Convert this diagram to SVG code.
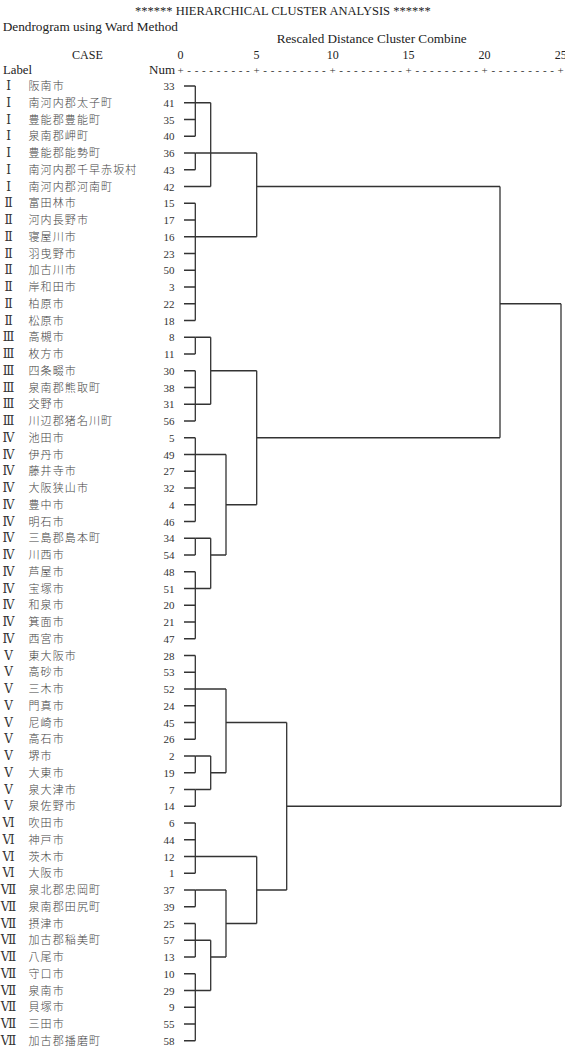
<svg xmlns="http://www.w3.org/2000/svg" width="565" height="1059" viewBox="0 0 565 1059">
<style>
.hd{font-family:"Liberation Serif","DejaVu Serif",serif;font-size:12px;fill:#222}
.ax{font-family:"Liberation Serif","DejaVu Serif",serif;font-size:11px;fill:#333}
.rn{font-family:"DejaVu Serif","Noto Sans CJK JP",serif;font-size:12px;fill:#333;text-anchor:middle}
.nm{font-family:"Noto Sans CJK JP",sans-serif;font-size:11px;font-weight:300;letter-spacing:1.1px;fill:#444}
.num{font-family:"Liberation Serif","DejaVu Serif",serif;font-size:11px;fill:#333;text-anchor:end}
.ln{fill:none;stroke:#333;stroke-width:1.3}
</style>
<rect width="565" height="1059" fill="#fff"/>
<g id="header">
<text class="hd" x="135" y="15" textLength="295.7" lengthAdjust="spacingAndGlyphs">****** HIERARCHICAL CLUSTER ANALYSIS ******</text>
<text class="hd" x="2.7" y="30.7" textLength="175.3" lengthAdjust="spacingAndGlyphs">Dendrogram using Ward Method</text>
<text class="hd" x="276.7" y="43.3" textLength="190" lengthAdjust="spacingAndGlyphs">Rescaled Distance Cluster Combine</text>
<text class="hd" x="72" y="59.3" textLength="31" lengthAdjust="spacingAndGlyphs">CASE</text>
<text class="hd" x="180.5" y="59.3" text-anchor="middle">0</text>
<text class="hd" x="256.5" y="59.3" text-anchor="middle">5</text>
<text class="hd" x="332.7" y="59.3" text-anchor="middle">10</text>
<text class="hd" x="408.5" y="59.3" text-anchor="middle">15</text>
<text class="hd" x="484.5" y="59.3" text-anchor="middle">20</text>
<text class="hd" x="560.7" y="59.3" text-anchor="middle">25</text>
<text class="hd" x="3" y="74" textLength="29" lengthAdjust="spacingAndGlyphs">Label</text>
<text class="hd" x="149" y="74" textLength="26" lengthAdjust="spacingAndGlyphs">Num</text>
<text class="ax" x="177.4" y="74" textLength="386.4" lengthAdjust="spacing">+---------+---------+---------+---------+---------+</text>
</g>
<g id="case-33"><text class="rn" x="8.5" y="90">Ⅰ</text><text class="nm" x="28.5" y="90">阪南市</text><text class="num" x="174.5" y="90">33</text></g>
<g id="case-41"><text class="rn" x="8.5" y="106.75">Ⅰ</text><text class="nm" x="28.5" y="106.75">南河内郡太子町</text><text class="num" x="174.5" y="106.75">41</text></g>
<g id="case-35"><text class="rn" x="8.5" y="123.5">Ⅰ</text><text class="nm" x="28.5" y="123.5">豊能郡豊能町</text><text class="num" x="174.5" y="123.5">35</text></g>
<g id="case-40"><text class="rn" x="8.5" y="140.25">Ⅰ</text><text class="nm" x="28.5" y="140.25">泉南郡岬町</text><text class="num" x="174.5" y="140.25">40</text></g>
<g id="case-36"><text class="rn" x="8.5" y="157">Ⅰ</text><text class="nm" x="28.5" y="157">豊能郡能勢町</text><text class="num" x="174.5" y="157">36</text></g>
<g id="case-43"><text class="rn" x="8.5" y="173.75">Ⅰ</text><text class="nm" x="28.5" y="173.75">南河内郡千早赤坂村</text><text class="num" x="174.5" y="173.75">43</text></g>
<g id="case-42"><text class="rn" x="8.5" y="190.5">Ⅰ</text><text class="nm" x="28.5" y="190.5">南河内郡河南町</text><text class="num" x="174.5" y="190.5">42</text></g>
<g id="case-15"><text class="rn" x="8.5" y="207.25">Ⅱ</text><text class="nm" x="28.5" y="207.25">富田林市</text><text class="num" x="174.5" y="207.25">15</text></g>
<g id="case-17"><text class="rn" x="8.5" y="224">Ⅱ</text><text class="nm" x="28.5" y="224">河内長野市</text><text class="num" x="174.5" y="224">17</text></g>
<g id="case-16"><text class="rn" x="8.5" y="240.75">Ⅱ</text><text class="nm" x="28.5" y="240.75">寝屋川市</text><text class="num" x="174.5" y="240.75">16</text></g>
<g id="case-23"><text class="rn" x="8.5" y="257.5">Ⅱ</text><text class="nm" x="28.5" y="257.5">羽曳野市</text><text class="num" x="174.5" y="257.5">23</text></g>
<g id="case-50"><text class="rn" x="8.5" y="274.25">Ⅱ</text><text class="nm" x="28.5" y="274.25">加古川市</text><text class="num" x="174.5" y="274.25">50</text></g>
<g id="case-3"><text class="rn" x="8.5" y="291">Ⅱ</text><text class="nm" x="28.5" y="291">岸和田市</text><text class="num" x="174.5" y="291">3</text></g>
<g id="case-22"><text class="rn" x="8.5" y="307.75">Ⅱ</text><text class="nm" x="28.5" y="307.75">柏原市</text><text class="num" x="174.5" y="307.75">22</text></g>
<g id="case-18"><text class="rn" x="8.5" y="324.5">Ⅱ</text><text class="nm" x="28.5" y="324.5">松原市</text><text class="num" x="174.5" y="324.5">18</text></g>
<g id="case-8"><text class="rn" x="8.5" y="341.25">Ⅲ</text><text class="nm" x="28.5" y="341.25">高槻市</text><text class="num" x="174.5" y="341.25">8</text></g>
<g id="case-11"><text class="rn" x="8.5" y="358">Ⅲ</text><text class="nm" x="28.5" y="358">枚方市</text><text class="num" x="174.5" y="358">11</text></g>
<g id="case-30"><text class="rn" x="8.5" y="374.75">Ⅲ</text><text class="nm" x="28.5" y="374.75">四条畷市</text><text class="num" x="174.5" y="374.75">30</text></g>
<g id="case-38"><text class="rn" x="8.5" y="391.5">Ⅲ</text><text class="nm" x="28.5" y="391.5">泉南郡熊取町</text><text class="num" x="174.5" y="391.5">38</text></g>
<g id="case-31"><text class="rn" x="8.5" y="408.25">Ⅲ</text><text class="nm" x="28.5" y="408.25">交野市</text><text class="num" x="174.5" y="408.25">31</text></g>
<g id="case-56"><text class="rn" x="8.5" y="425">Ⅲ</text><text class="nm" x="28.5" y="425">川辺郡猪名川町</text><text class="num" x="174.5" y="425">56</text></g>
<g id="case-5"><text class="rn" x="8.5" y="441.75">Ⅳ</text><text class="nm" x="28.5" y="441.75">池田市</text><text class="num" x="174.5" y="441.75">5</text></g>
<g id="case-49"><text class="rn" x="8.5" y="458.5">Ⅳ</text><text class="nm" x="28.5" y="458.5">伊丹市</text><text class="num" x="174.5" y="458.5">49</text></g>
<g id="case-27"><text class="rn" x="8.5" y="475.25">Ⅳ</text><text class="nm" x="28.5" y="475.25">藤井寺市</text><text class="num" x="174.5" y="475.25">27</text></g>
<g id="case-32"><text class="rn" x="8.5" y="492">Ⅳ</text><text class="nm" x="28.5" y="492">大阪狭山市</text><text class="num" x="174.5" y="492">32</text></g>
<g id="case-4"><text class="rn" x="8.5" y="508.75">Ⅳ</text><text class="nm" x="28.5" y="508.75">豊中市</text><text class="num" x="174.5" y="508.75">4</text></g>
<g id="case-46"><text class="rn" x="8.5" y="525.5">Ⅳ</text><text class="nm" x="28.5" y="525.5">明石市</text><text class="num" x="174.5" y="525.5">46</text></g>
<g id="case-34"><text class="rn" x="8.5" y="542.25">Ⅳ</text><text class="nm" x="28.5" y="542.25">三島郡島本町</text><text class="num" x="174.5" y="542.25">34</text></g>
<g id="case-54"><text class="rn" x="8.5" y="559">Ⅳ</text><text class="nm" x="28.5" y="559">川西市</text><text class="num" x="174.5" y="559">54</text></g>
<g id="case-48"><text class="rn" x="8.5" y="575.75">Ⅳ</text><text class="nm" x="28.5" y="575.75">芦屋市</text><text class="num" x="174.5" y="575.75">48</text></g>
<g id="case-51"><text class="rn" x="8.5" y="592.5">Ⅳ</text><text class="nm" x="28.5" y="592.5">宝塚市</text><text class="num" x="174.5" y="592.5">51</text></g>
<g id="case-20"><text class="rn" x="8.5" y="609.25">Ⅳ</text><text class="nm" x="28.5" y="609.25">和泉市</text><text class="num" x="174.5" y="609.25">20</text></g>
<g id="case-21"><text class="rn" x="8.5" y="626">Ⅳ</text><text class="nm" x="28.5" y="626">箕面市</text><text class="num" x="174.5" y="626">21</text></g>
<g id="case-47"><text class="rn" x="8.5" y="642.75">Ⅳ</text><text class="nm" x="28.5" y="642.75">西宮市</text><text class="num" x="174.5" y="642.75">47</text></g>
<g id="case-28"><text class="rn" x="8.5" y="659.5">Ⅴ</text><text class="nm" x="28.5" y="659.5">東大阪市</text><text class="num" x="174.5" y="659.5">28</text></g>
<g id="case-53"><text class="rn" x="8.5" y="676.25">Ⅴ</text><text class="nm" x="28.5" y="676.25">高砂市</text><text class="num" x="174.5" y="676.25">53</text></g>
<g id="case-52"><text class="rn" x="8.5" y="693">Ⅴ</text><text class="nm" x="28.5" y="693">三木市</text><text class="num" x="174.5" y="693">52</text></g>
<g id="case-24"><text class="rn" x="8.5" y="709.75">Ⅴ</text><text class="nm" x="28.5" y="709.75">門真市</text><text class="num" x="174.5" y="709.75">24</text></g>
<g id="case-45"><text class="rn" x="8.5" y="726.5">Ⅴ</text><text class="nm" x="28.5" y="726.5">尼崎市</text><text class="num" x="174.5" y="726.5">45</text></g>
<g id="case-26"><text class="rn" x="8.5" y="743.25">Ⅴ</text><text class="nm" x="28.5" y="743.25">高石市</text><text class="num" x="174.5" y="743.25">26</text></g>
<g id="case-2"><text class="rn" x="8.5" y="760">Ⅴ</text><text class="nm" x="28.5" y="760">堺市</text><text class="num" x="174.5" y="760">2</text></g>
<g id="case-19"><text class="rn" x="8.5" y="776.75">Ⅴ</text><text class="nm" x="28.5" y="776.75">大東市</text><text class="num" x="174.5" y="776.75">19</text></g>
<g id="case-7"><text class="rn" x="8.5" y="793.5">Ⅴ</text><text class="nm" x="28.5" y="793.5">泉大津市</text><text class="num" x="174.5" y="793.5">7</text></g>
<g id="case-14"><text class="rn" x="8.5" y="810.25">Ⅴ</text><text class="nm" x="28.5" y="810.25">泉佐野市</text><text class="num" x="174.5" y="810.25">14</text></g>
<g id="case-6"><text class="rn" x="8.5" y="827">Ⅵ</text><text class="nm" x="28.5" y="827">吹田市</text><text class="num" x="174.5" y="827">6</text></g>
<g id="case-44"><text class="rn" x="8.5" y="843.75">Ⅵ</text><text class="nm" x="28.5" y="843.75">神戸市</text><text class="num" x="174.5" y="843.75">44</text></g>
<g id="case-12"><text class="rn" x="8.5" y="860.5">Ⅵ</text><text class="nm" x="28.5" y="860.5">茨木市</text><text class="num" x="174.5" y="860.5">12</text></g>
<g id="case-1"><text class="rn" x="8.5" y="877.25">Ⅵ</text><text class="nm" x="28.5" y="877.25">大阪市</text><text class="num" x="174.5" y="877.25">1</text></g>
<g id="case-37"><text class="rn" x="8.5" y="894">Ⅶ</text><text class="nm" x="28.5" y="894">泉北郡忠岡町</text><text class="num" x="174.5" y="894">37</text></g>
<g id="case-39"><text class="rn" x="8.5" y="910.75">Ⅶ</text><text class="nm" x="28.5" y="910.75">泉南郡田尻町</text><text class="num" x="174.5" y="910.75">39</text></g>
<g id="case-25"><text class="rn" x="8.5" y="927.5">Ⅶ</text><text class="nm" x="28.5" y="927.5">摂津市</text><text class="num" x="174.5" y="927.5">25</text></g>
<g id="case-57"><text class="rn" x="8.5" y="944.25">Ⅶ</text><text class="nm" x="28.5" y="944.25">加古郡稲美町</text><text class="num" x="174.5" y="944.25">57</text></g>
<g id="case-13"><text class="rn" x="8.5" y="961">Ⅶ</text><text class="nm" x="28.5" y="961">八尾市</text><text class="num" x="174.5" y="961">13</text></g>
<g id="case-10"><text class="rn" x="8.5" y="977.75">Ⅶ</text><text class="nm" x="28.5" y="977.75">守口市</text><text class="num" x="174.5" y="977.75">10</text></g>
<g id="case-29"><text class="rn" x="8.5" y="994.5">Ⅶ</text><text class="nm" x="28.5" y="994.5">泉南市</text><text class="num" x="174.5" y="994.5">29</text></g>
<g id="case-9"><text class="rn" x="8.5" y="1011.25">Ⅶ</text><text class="nm" x="28.5" y="1011.25">貝塚市</text><text class="num" x="174.5" y="1011.25">9</text></g>
<g id="case-55"><text class="rn" x="8.5" y="1028">Ⅶ</text><text class="nm" x="28.5" y="1028">三田市</text><text class="num" x="174.5" y="1028">55</text></g>
<g id="case-58"><text class="rn" x="8.5" y="1044.75">Ⅶ</text><text class="nm" x="28.5" y="1044.75">加古郡播磨町</text><text class="num" x="174.5" y="1044.75">58</text></g>
<g id="connectors" class="ln">
<path d="M184 86H195.3M184 102.75H195.3M184 119.5H195.3M184 136.25H195.3M184 153H195.3M184 169.75H195.3M184 186.5H210.7M184 203.25H195.3M184 220H195.3M184 236.75H195.3M184 253.5H195.3M184 270.25H195.3M184 287H195.3M184 303.75H195.3M184 320.5H195.3M184 337.25H195.3M184 354H195.3M184 370.75H195.3M184 387.5H195.3M184 404.25H195.3M184 421H195.3M184 437.75H195.3M184 454.5H195.3M184 471.25H195.3M184 488H195.3M184 504.75H195.3M184 521.5H195.3M184 538.25H195.3M184 555H195.3M184 571.75H195.3M184 588.5H195.3M184 605.25H195.3M184 622H195.3M184 638.75H195.3M184 655.5H195.3M184 672.25H195.3M184 689H195.3M184 705.75H195.3M184 722.5H195.3M184 739.25H195.3M184 756H195.3M184 772.75H195.3M184 789.5H195.3M184 806.25H195.3M184 823H195.3M184 839.75H195.3M184 856.5H195.3M184 873.25H195.3M184 890H195.3M184 906.75H195.3M184 923.5H195.3M184 940.25H195.3M184 957H195.3M184 973.75H195.3M184 990.5H195.3M184 1007.25H195.3M184 1024H195.3M184 1040.75H195.3"/>
<path d="M195.3 86V136.25M195.3 102.75H210.7"/>
<path d="M195.3 153V169.75M195.3 153H256.7"/>
<path d="M210.7 102.75V186.5"/>
<path d="M195.3 203.25V320.5M195.3 236.75H256.7"/>
<path d="M256.7 153V236.75M256.7 186.5H500"/>
<path d="M195.3 337.25V354M195.3 337.25H210.7"/>
<path d="M195.3 370.75V421M195.3 404.25H210.7"/>
<path d="M210.7 337.25V404.25M210.7 370.75H256.7"/>
<path d="M195.3 437.75V521.5M195.3 454.5H226"/>
<path d="M195.3 538.25V555M195.3 538.25H210.7"/>
<path d="M195.3 571.75V638.75M195.3 588.5H210.7"/>
<path d="M210.7 538.25V588.5M210.7 555H226"/>
<path d="M226 454.5V555M226 504.75H256.7"/>
<path d="M256.7 370.75V504.75M256.7 437.75H500"/>
<path d="M500 186.5V437.75M500 303.75H561"/>
<path d="M195.3 655.5V739.25M195.3 689H226"/>
<path d="M195.3 756V772.75M195.3 756H210.7"/>
<path d="M195.3 789.5V806.25M195.3 789.5H210.7"/>
<path d="M210.7 756V789.5M210.7 772.75H226"/>
<path d="M226 689V772.75M226 722.5H286.7"/>
<path d="M195.3 823V873.25M195.3 856.5H256.7"/>
<path d="M195.3 890V906.75M195.3 890H226"/>
<path d="M195.3 923.5V957M195.3 940.25H210.7"/>
<path d="M195.3 973.75V1040.75M195.3 990.5H210.7"/>
<path d="M210.7 940.25V990.5M210.7 957H226"/>
<path d="M226 890V957M226 923.5H256.7"/>
<path d="M256.7 856.5V923.5M256.7 890H286.7"/>
<path d="M286.7 722.5V890M286.7 806.25H561"/>
<path d="M561 303.75V806.25"/>
</g>
</svg>
